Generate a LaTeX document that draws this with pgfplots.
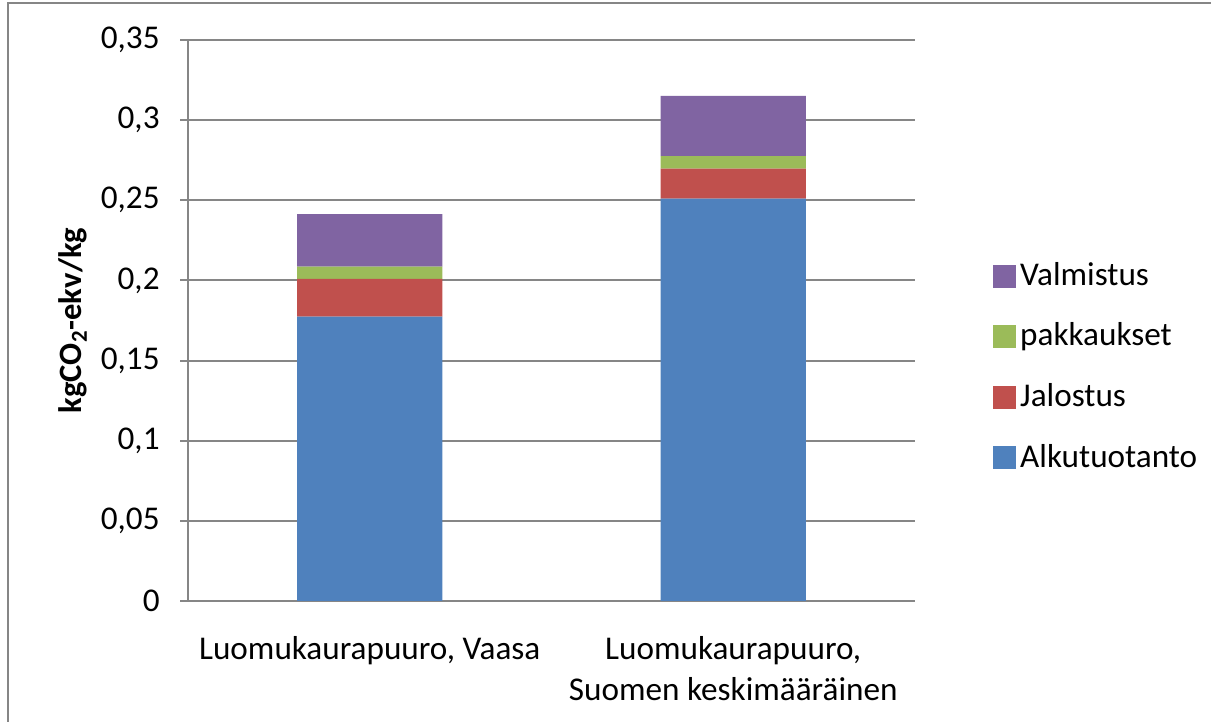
\documentclass[border=0pt]{standalone}
\usepackage{pgfplots}
\pgfplotsset{compat=1.18}
\usepackage{fontspec}
\setmainfont{Carlito}
\definecolor{cblue}{HTML}{4F81BD}
\definecolor{cred}{HTML}{C0504D}
\definecolor{cgreen}{HTML}{9BBB59}
\definecolor{cpurple}{HTML}{8064A2}
\definecolor{agray}{HTML}{868686}
\begin{document}
\fontsize{16.5}{20}\selectfont
\begin{tikzpicture}
\useasboundingbox (0,0) rectangle (605.5pt,361pt);
\draw[agray, line width=0.75pt] (4pt,-10pt) rectangle (620pt,359.5pt);
\begin{axis}[
  at={(94pt,60.5pt)}, anchor=south west,
  scale only axis, width=363.5pt, height=280.5pt,
  xmin=0, xmax=2, ymin=0, ymax=0.35,
  ybar stacked, bar width=0.4,
  axis x line*=bottom, axis y line*=left,
  axis line style={agray, line width=1pt, -},
  ytick={0,0.05,...,0.35},
  ymajorgrids, grid style={agray, line width=1pt},
  tick align=outside,
  major tick length=4pt,
  tick style={agray, line width=1pt},
  xtick={0.5,1.5},
  xticklabels={{Luomukaurapuuro, Vaasa},{Luomukaurapuuro,\\Suomen keskimääräinen}},
  xticklabel style={align=center, font=\fontsize{16.6}{20.5}\selectfont, yshift=-8pt},
  x tick style={draw=none},
  extra x ticks={0,1,2}, extra x tick labels={},
  extra x tick style={x tick style={agray, line width=1pt}, major tick length=4.5pt, grid=none},
  /pgf/number format/assume math mode=true,
  yticklabel style={/pgf/number format/fixed, /pgf/number format/precision=2, /pgf/number format/use comma, font=\fontsize{16.6}{20}\selectfont, xshift=-4.5pt},
  ylabel={\textbf{kgCO\textsubscript{2}-ekv/kg}},
  every axis y label/.style={at={(axis description cs:-0.158,0.5)}, rotate=90, anchor=center, font=\fontsize{16.3}{20}\selectfont},
  legend style={at={(axis description cs:1.107,0.417)}, anchor=west, draw=none, fill=none, inner sep=0pt, row sep=12.3pt, font=\fontsize{16.6}{20}\selectfont},
  legend cell align=left,
  reverse legend,
  legend image code/.code={\fill[#1] (0pt,-5.75pt) rectangle (11.5pt,5.75pt);},
]
\addplot[fill=cblue, draw=none] coordinates {(0.5,0.1774) (1.5,0.2510)};
\addplot[fill=cred, draw=none] coordinates {(0.5,0.0235) (1.5,0.0187)};
\addplot[fill=cgreen, draw=none] coordinates {(0.5,0.0077) (1.5,0.0079)};
\addplot[fill=cpurple, draw=none] coordinates {(0.5,0.0328) (1.5,0.0375)};
\legend{Alkutuotanto, Jalostus, pakkaukset, Valmistus}
\end{axis}
\end{tikzpicture}
\end{document}
